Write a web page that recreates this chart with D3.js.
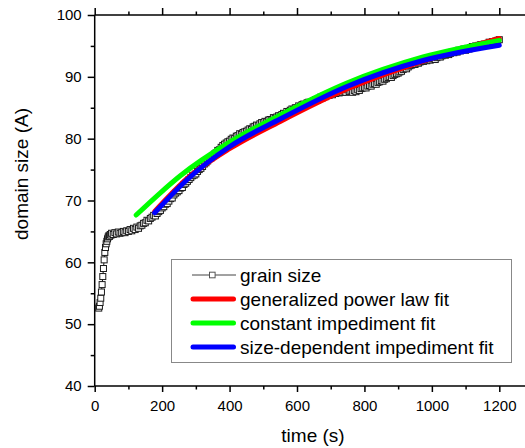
<!DOCTYPE html>
<html><head><meta charset="utf-8">
<script src="https://cdn.jsdelivr.net/npm/d3@7"></script>
<style>body{margin:0;background:#fff}svg{display:block}</style>
</head><body><svg id="c" width="525" height="448"></svg>
<script>
// ---- data ----
const grainTime = [12,14,16,18,20,22,24,26,28,30,32,34,36,38,40,42,44,46,48,
 50,55,60,65,70,75,80,85,90,95,
 100,105,110,115,120,125,130,135,140,145,
 150,155,160,165,170,175,180,185,190,195,
 200,205,210,215,220,225,230,235,240,245,
 250,255,260,265,270,275,280,285,290,295,
 300,305,310,315,320,325,330,335,340,345,
 350,355,360,365,370,375,380,385,390,395,
 400,405,410,415,420,425,430,435,440,445,
 450,455,460,465,470,475,480,485,490,495,
 500,505,510,515,520,525,530,535,540,545,
 550,555,560,565,570,575,580,585,590,595,
 600,605,610,615,620,625,630,635,640,645,
 650,655,660,665,670,675,680,685,690,695,
 700,705,710,715,720,725,730,735,740,745,
 750,755,760,765,770,775,780,785,790,795,
 800,805,810,815,820,825,830,835,840,845,
 850,855,860,865,870,875,880,885,890,895,
 900,905,910,915,920,925,930,935,940,945,
 950,955,960,965,970,975,980,985,990,995,
 1000,1005,1010,1015,1020,1025,1030,1035,1040,1045,
 1050,1055,1060,1065,1070,1075,1080,1085,1090,1095,
 1100,1105,1110,1115,1120,1125,1130,1135,1140,1145,
 1150,1155,1160,1165,1170,1175,1180,1185,1190,1195,1200];
const grainSize = [52.6,52.9,53.5,54.2,55.2,56.4,57.7,59.0,60.4,61.6,62.4,63.0,63.4,63.8,64.1,64.3,64.2,64.5,64.4,
 64.7,64.5,64.8,64.6,64.9,64.7,64.8,65.0,64.8,65.1,
 65.0,65.3,65.1,65.5,65.3,65.7,65.5,65.9,66.0,66.3,
 66.4,66.8,66.7,67.1,67.3,67.6,67.5,67.9,68.2,68.4,
 68.8,69.0,69.4,69.5,69.9,70.3,70.4,70.9,71.2,71.4,
 71.6,72.0,72.1,72.6,72.8,73.1,73.4,73.7,74.0,74.1,
 74.3,74.7,75.0,75.2,75.5,75.9,76.1,76.4,76.8,76.9,
 77.2,77.5,77.7,78.1,78.2,78.6,78.9,79.1,79.3,79.5,
 79.6,79.9,80.1,80.0,80.4,80.5,80.8,80.7,81.0,81.1,
 81.2,81.4,81.6,81.5,81.9,82.0,82.2,82.1,82.4,82.6,
 82.6,82.8,82.7,83.0,83.1,83.0,83.4,83.3,83.5,83.7,
 83.7,83.9,84.1,84.0,84.4,84.3,84.6,84.8,84.7,85.0,
 85.0,85.3,85.2,85.5,85.6,85.4,85.8,85.9,85.7,86.0,
 86.1,86.3,86.2,86.5,86.7,86.6,86.9,86.8,87.1,87.0,
 87.2,87.1,87.4,87.3,87.5,87.4,87.6,87.5,87.7,87.5,
 87.9,87.6,87.7,87.5,87.8,87.6,87.9,87.8,88.1,88.2,
 88.3,88.2,88.5,88.6,88.5,88.8,88.9,88.8,89.1,89.2,
 89.4,89.3,89.6,89.7,89.9,90.0,89.9,90.2,90.4,90.5,
 90.6,90.8,90.9,91.2,91.4,91.3,91.6,91.8,91.9,92.1,
 92.0,92.3,92.2,92.4,92.6,92.5,92.7,92.6,92.8,92.7,
 92.9,93.0,92.8,93.1,93.3,93.2,93.4,93.6,93.5,93.7,
 93.6,93.8,94.0,93.9,94.1,94.0,94.3,94.2,94.4,94.5,
 94.3,94.6,94.5,94.7,94.9,94.8,95.0,94.9,95.1,95.2,
 95.1,95.3,95.2,95.4,95.6,95.5,95.7,95.6,95.8,95.9,96.0];

const powerTime = [178,273,401,550,748,974,1200];
const powerFit  = [68.22,73.48,78.41,82.78,88.03,92.56,96.2];

const constTime = [123,194,253,401,550,748,974,1200];
const constFit  = [67.65,71.21,73.96,79.46,83.83,89.00,93.21,95.9];

const sizeTime = [178,273,401,550,748,974,1200];
const sizeFit  = [68.03,73.32,78.73,83.18,88.44,92.64,95.1];

const xTicks = [0,200,400,600,800,1000,1200];
const yTicks = [40,50,60,70,80,90,100];
const legendLabels = ["grain size","generalized power law fit","constant impediment fit","size-dependent impediment fit"];
const fitColors = ["#ff0000","#00ff00","#0000ff"];

// ---- drawing ----
const svg = d3.select("#c");
const FONT = "Liberation Sans, Arial, sans-serif";
const x = d3.scaleLinear().domain([0,1200]).range([94.7,499.3]);
const y = d3.scaleLinear().domain([40,100]).range([386,15]);
const xRight = 525;

// data squares
const g = svg.append("g");
const pts = grainTime.map((t,i)=>({t, v:grainSize[i]}));
g.append("path")
  .attr("d", d3.line().x(d=>x(d.t)).y(d=>y(d.v))(pts))
  .attr("fill","none").attr("stroke","#111").attr("stroke-width",1);
g.selectAll("rect.sq").data(pts).join("rect")
  .attr("class","sq")
  .attr("x", d=>x(d.t)-3).attr("y", d=>y(d.v)-3)
  .attr("width",6).attr("height",6)
  .attr("fill","#fff").attr("stroke","#1a1a1a").attr("stroke-width",1);

// fits
const fits = [[powerTime,powerFit],[constTime,constFit],[sizeTime,sizeFit]];
const fitLine = d3.line().x(d=>x(d[0])).y(d=>y(d[1])).curve(d3.curveMonotoneX);
fits.forEach((f,k)=>{
  g.append("path")
    .attr("d", fitLine(f[0].map((t,i)=>[t,f[1][i]])))
    .attr("fill","none").attr("stroke",fitColors[k]).attr("stroke-width",5)
    .attr("stroke-linecap","round");
});

// axes
function styleAxis(sel){
  sel.selectAll("path.domain").remove();
  sel.selectAll("line").attr("stroke","#000").attr("stroke-width",1.5);
  sel.selectAll("text").attr("font-family",FONT).attr("font-size",15).attr("fill","#000");
}
const xMinor = d3.range(100,1300,200);
const yMinor = d3.range(45,100,10);

const axB = svg.append("g").attr("transform",`translate(0,${y(40)})`);
axB.call(d3.axisBottom(x).tickValues(xTicks).tickSize(6).tickPadding(8).tickFormat(d3.format("d")));
styleAxis(axB);
axB.append("g").call(d3.axisBottom(x).tickValues(xMinor).tickSize(3.5).tickFormat("")).call(styleAxis);

const axT = svg.append("g").attr("transform",`translate(0,${y(100)})`);
axT.call(d3.axisTop(x).tickValues(xTicks).tickSize(7).tickFormat("")); styleAxis(axT);
axT.append("g").call(d3.axisTop(x).tickValues(xMinor).tickSize(3.5).tickFormat("")).call(styleAxis);

const axL = svg.append("g").attr("transform",`translate(${x(0)},0)`);
axL.call(d3.axisLeft(y).tickValues(yTicks).tickSize(7).tickPadding(6).tickFormat(d3.format("d")));
styleAxis(axL);
axL.append("g").call(d3.axisLeft(y).tickValues(yMinor).tickSize(4).tickFormat("")).call(styleAxis);

// axis lines
svg.append("line").attr("x1",x(0)).attr("x2",xRight).attr("y1",y(40)).attr("y2",y(40)).attr("stroke","#000").attr("stroke-width",1.5);
svg.append("line").attr("x1",x(0)).attr("x2",xRight).attr("y1",y(100)).attr("y2",y(100)).attr("stroke","#000").attr("stroke-width",1.5);
svg.append("line").attr("x1",x(0)).attr("x2",x(0)).attr("y1",y(100)).attr("y2",y(40)).attr("stroke","#000").attr("stroke-width",1.5);

// titles
svg.append("text").attr("x",313).attr("y",442).attr("text-anchor","middle")
  .attr("font-family",FONT).attr("font-size",19).text("time (s)");
svg.append("text").attr("transform",`translate(28,174) rotate(-90)`).attr("text-anchor","middle")
  .attr("font-family",FONT).attr("font-size",19).text("domain size (A)");

// legend
const lg = svg.append("g");
lg.append("rect").attr("x",171.5).attr("y",259.5).attr("width",340).attr("height",103)
  .attr("fill","#fff").attr("stroke","#888").attr("stroke-width",1);
const rowY = [275,299,323,347];
legendLabels.forEach((lab,i)=>{
  if(i===0){
    lg.append("line").attr("x1",192).attr("x2",236).attr("y1",rowY[i]).attr("y2",rowY[i]).attr("stroke","#444").attr("stroke-width",1);
    lg.append("rect").attr("x",209.5).attr("y",rowY[i]-2.8).attr("width",5.6).attr("height",5.6).attr("fill","#fff").attr("stroke","#555").attr("stroke-width",1);
  } else {
    lg.append("line").attr("x1",193).attr("x2",233.5).attr("y1",rowY[i]).attr("y2",rowY[i])
      .attr("stroke",fitColors[i-1]).attr("stroke-width",5).attr("stroke-linecap","round");
  }
  lg.append("text").attr("x",240).attr("y",rowY[i]+7).attr("font-family",FONT).attr("font-size",19).text(lab);
});
</script></body></html>
